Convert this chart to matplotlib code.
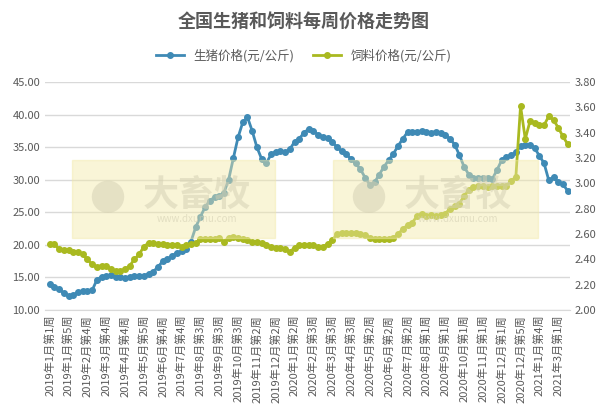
import matplotlib
matplotlib.use("Agg")
import matplotlib.pyplot as plt
from matplotlib.patches import Rectangle
from matplotlib.ticker import FormatStrFormatter

plt.rcParams['font.family'] = ['Noto Sans CJK SC', 'DejaVu Sans']

pig = [14.0,13.6,13.2,12.6,12.2,12.3,12.7,12.9,12.9,13.0,14.6,15.1,15.2,15.3,15.1,15.0,14.9,15.1,15.2,15.2,
       15.2,15.6,15.9,16.6,17.5,17.8,18.3,18.8,19.0,19.3,20.5,22.7,24.3,25.8,26.8,27.3,27.5,28.0,30.0,33.3,
       36.5,38.8,39.6,37.5,35.0,33.2,32.5,33.9,34.3,34.4,34.2,34.7,35.8,36.3,37.2,37.8,37.5,36.9,36.6,36.4,
       35.8,35.0,34.4,33.9,33.2,32.5,31.6,30.3,29.2,29.6,30.8,32.0,33.0,34.0,35.2,36.3,37.3,37.4,37.3,37.5,
       37.3,37.2,37.4,37.1,36.8,36.3,35.4,33.8,32.0,30.8,30.2,30.2,30.2,30.2,30.1,31.5,33.0,33.5,33.8,34.2,
       35.2,35.4,35.3,34.8,33.7,32.5,29.9,30.4,29.6,29.3,28.3]
feed = [2.52,2.52,2.48,2.47,2.47,2.46,2.46,2.44,2.40,2.36,2.34,2.35,2.35,2.32,2.31,2.31,2.32,2.35,2.40,2.44,
        2.50,2.53,2.53,2.52,2.52,2.51,2.51,2.51,2.50,2.51,2.52,2.53,2.56,2.56,2.56,2.56,2.57,2.54,2.57,2.58,
        2.57,2.56,2.55,2.54,2.54,2.53,2.51,2.50,2.49,2.49,2.48,2.46,2.49,2.51,2.51,2.51,2.51,2.50,2.50,2.52,
        2.55,2.60,2.61,2.61,2.61,2.61,2.60,2.59,2.57,2.56,2.56,2.56,2.56,2.57,2.60,2.64,2.67,2.69,2.74,2.76,
        2.74,2.75,2.74,2.75,2.76,2.80,2.82,2.84,2.90,2.95,2.97,2.98,2.98,2.97,2.98,2.98,2.98,2.98,3.02,3.05,
        3.61,3.35,3.49,3.48,3.46,3.46,3.53,3.50,3.44,3.37,3.31]
tick_labels = ["2019年1月第1周","2019年1月第5周","2019年2月第4周","2019年3月第4周","2019年4月第4周",
               "2019年5月第5周","2019年6月第4周","2019年7月第4周","2019年8月第3周","2019年9月第3周",
               "2019年10月第3周","2019年11月第2周","2019年12月第2周","2020年1月第2周","2020年2月第3周",
               "2020年3月第3周","2020年4月第3周","2020年5月第2周","2020年6月第2周","2020年7月第2周",
               "2020年8月第1周","2020年9月第1周","2020年10月第1周","2020年11月第1周","2020年12月第1周",
               "2020年12月第5周","2021年1月第4周","2021年3月第1周"]

blue = '#3f8ab5'
green = '#a9b920'
fig = plt.figure(figsize=(6.08, 4.15), dpi=100)
ax = fig.add_axes([45/608, 105/415, 525/608, 228/415])
ax2 = ax.twinx()
x = list(range(len(pig)))
ax.set_xlim(-1.0, len(pig) - 0.5)
ax.set_ylim(10, 45)
ax2.set_ylim(2.0, 3.8)
ax.set_yticks([10,15,20,25,30,35,40,45])
ax2.set_yticks([2.0,2.2,2.4,2.6,2.8,3.0,3.2,3.4,3.6,3.8])
ax.yaxis.set_major_formatter(FormatStrFormatter('%.2f'))
ax2.yaxis.set_major_formatter(FormatStrFormatter('%.2f'))
ax.grid(axis='y', color='#d9d9d9', lw=1)
ax.set_axisbelow(True)
for a in (ax, ax2):
    for s in a.spines.values():
        s.set_visible(False)
    a.tick_params(length=0, labelsize=8, colors='#595959')
ax.spines['bottom'].set_visible(True)
ax.spines['bottom'].set_color('#d9d9d9')
ax.set_xticks(list(range(0, 4*len(tick_labels), 4)))
ax.set_xticklabels(tick_labels, rotation=90, fontsize=8, color='#595959')

lp, = ax.plot(x, pig, color=blue, lw=2, marker='o', ms=4, zorder=3)
lf, = ax2.plot(x, feed, color=green, lw=2, marker='o', ms=4, zorder=3)

for (x0, x1) in [(72, 275), (333, 538)]:
    fig.patches.append(Rectangle((x0/608, 1-238/415), (x1-x0)/608, 78/415,
                                 transform=fig.transFigure, color='#f2e9a8', alpha=0.45, zorder=5))
    fig.text((x0+35)/608, 1-200/415, '●', fontsize=26, color='#bbbbbb', alpha=0.5, va='center', ha='center')
    fig.text((x0+125)/608, 1-195/415, '大畜牧', fontsize=26, color='#bbbbbb', alpha=0.5, va='center', ha='center', weight='bold')
    fig.text((x0+125)/608, 1-219/415, 'www.dxumu.com', fontsize=7, color='#bbbbbb', alpha=0.6, va='center', ha='center')

fig.text(0.5, 1-22/415, '全国生猪和饲料每周价格走势图', ha='center', va='center', fontsize=13, weight='bold', color='#595959')
fig.legend([lp, lf], ['生猪价格(元/公斤)', '饲料价格(元/公斤)'], loc='center', bbox_to_anchor=(0.5, 1-56/415),
           ncol=2, frameon=False, fontsize=9, labelcolor='#595959', handlelength=2.2, columnspacing=1.5)
fig.savefig('out.png', dpi=100)
